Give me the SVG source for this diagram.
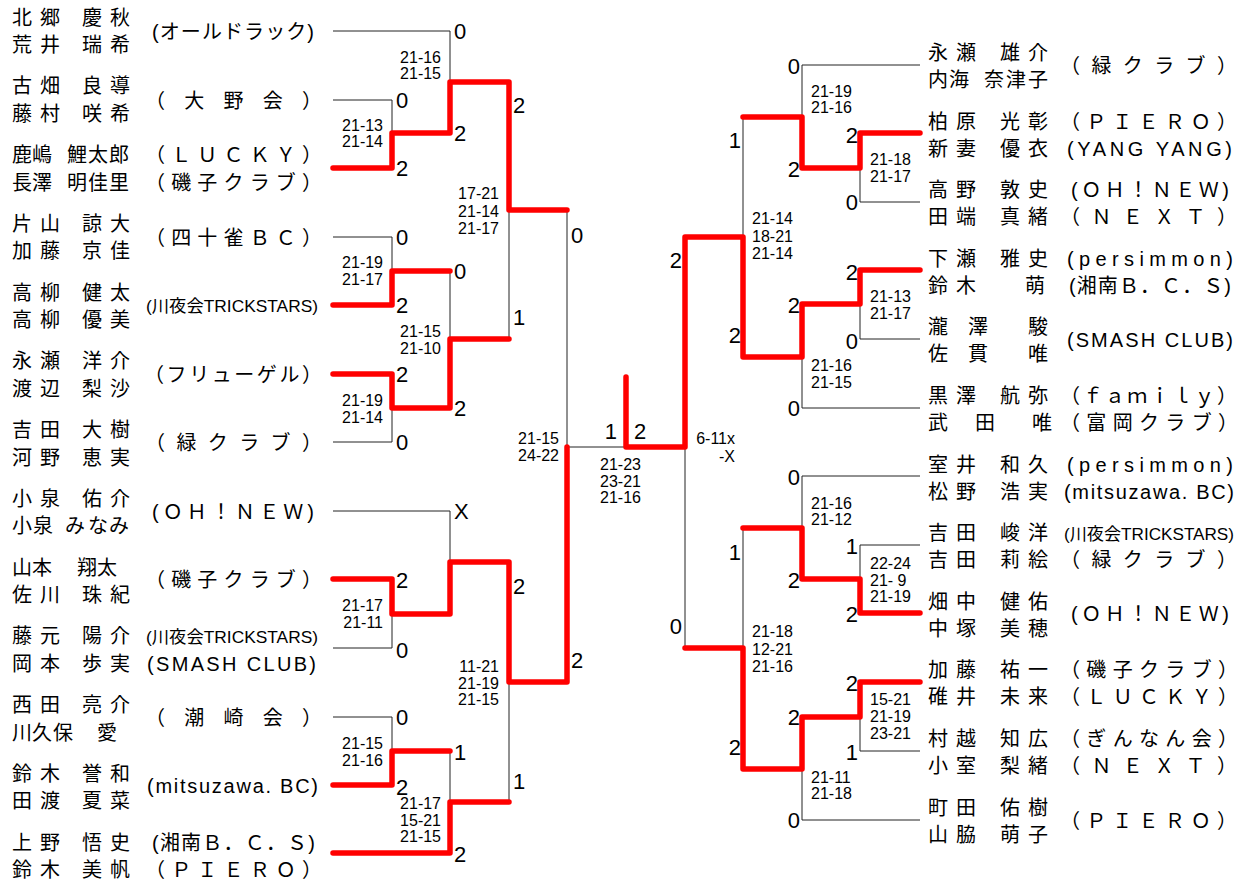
<svg xmlns="http://www.w3.org/2000/svg" width="1244" height="881" viewBox="0 0 1244 881">
<style>
.nm{font-family:"Noto Sans CJK JP",sans-serif;font-size:20px;fill:#000}
.tm{font-family:"Liberation Sans","Noto Sans CJK JP",sans-serif;font-size:20px;fill:#000}
.tk{font-family:"Liberation Sans","Noto Sans CJK JP",sans-serif;font-size:17px;fill:#000}
.sc{font-family:"Liberation Sans",sans-serif;font-size:22px;fill:#000}
.gs{font-family:"Liberation Sans",sans-serif;font-size:16px;fill:#000}
.e{text-anchor:end}
.th{fill:none;stroke:#222;stroke-width:1}
.rd{fill:none;stroke:#f00;stroke-width:5.5;stroke-linecap:round;stroke-linejoin:round}
</style>
<rect width="1244" height="881" fill="#fff"/>
<g id="connectors">
<path class="th" d="M333 31H450V82M333 100H392V133M333 237H392V271M450 271V339M333 442H392V408M509 210V339M567 210V447H626M333 511H450V562M333 648H392V614M333 717H392V751M450 751V802M509 682V802"/>
<path class="th" d="M920 65H802V117M743 117V237M920 202H860V168M920 339H860V304M920 408H802V357M920 476H802V528M920 545H860V579M743 528V648M685 447V648M920 751H860V717M920 820H802V769"/>
<path class="rd" d="M333 168H392V133H450V82H509V210H567"/>
<path class="rd" d="M333 305H392V271H450"/>
<path class="rd" d="M333 374H392V408H450V339H509"/>
<path class="rd" d="M333 579H392V614H450V562H509V682H567V447"/>
<path class="rd" d="M333 785H392V751H450"/>
<path class="rd" d="M333 853H450V802H509"/>
<path class="rd" d="M626 377V447H685V237H743V357H802V304H860V270H920"/>
<path class="rd" d="M920 133H860V168H802V117H743"/>
<path class="rd" d="M920 613H860V579H802V528H743"/>
<path class="rd" d="M920 682H860V717H802V769H743V648H685"/>
</g>
<g id="scores">
<text class="sc" x="454" y="39">0</text>
<text class="sc" x="396" y="108">0</text>
<text class="sc" x="396" y="176">2</text>
<text class="sc" x="454" y="141">2</text>
<text class="sc" x="513" y="113">2</text>
<text class="sc" x="396" y="245">0</text>
<text class="sc" x="454" y="279">0</text>
<text class="sc" x="396" y="313">2</text>
<text class="sc" x="513" y="325">1</text>
<text class="sc" x="571" y="243">0</text>
<text class="sc" x="396" y="382">2</text>
<text class="sc" x="454" y="416">2</text>
<text class="sc" x="396" y="450">0</text>
<text class="sc" x="454" y="519">X</text>
<text class="sc" x="396" y="588">2</text>
<text class="sc" x="396" y="658">0</text>
<text class="sc" x="513" y="594">2</text>
<text class="sc" x="571" y="668">2</text>
<text class="sc" x="396" y="725">0</text>
<text class="sc" x="454" y="760">1</text>
<text class="sc" x="396" y="795">2</text>
<text class="sc" x="513" y="789">1</text>
<text class="sc" x="454" y="862">2</text>
<text class="sc e" x="617" y="439">1</text>
<text class="sc" x="634" y="439">2</text>
<text class="sc e" x="682" y="268">2</text>
<text class="sc e" x="682" y="634">0</text>
<text class="sc e" x="741" y="148">1</text>
<text class="sc e" x="741" y="343">2</text>
<text class="sc e" x="800" y="74">0</text>
<text class="sc e" x="800" y="177">2</text>
<text class="sc e" x="858" y="143">2</text>
<text class="sc e" x="858" y="210">0</text>
<text class="sc e" x="800" y="313">2</text>
<text class="sc e" x="858" y="280">2</text>
<text class="sc e" x="858" y="349">0</text>
<text class="sc e" x="800" y="416">0</text>
<text class="sc e" x="800" y="485">0</text>
<text class="sc e" x="741" y="560">1</text>
<text class="sc e" x="800" y="588">2</text>
<text class="sc e" x="858" y="554">1</text>
<text class="sc e" x="858" y="622">2</text>
<text class="sc e" x="741" y="755">2</text>
<text class="sc e" x="800" y="725">2</text>
<text class="sc e" x="858" y="691">2</text>
<text class="sc e" x="858" y="760">1</text>
<text class="sc e" x="800" y="828">0</text>
</g>
<g id="games">
<text class="gs e" x="441" y="63">21-16<tspan x="441" dy="16">21-15</tspan></text>
<text class="gs e" x="383" y="131">21-13<tspan x="383" dy="16">21-14</tspan></text>
<text class="gs e" x="499" y="199">17-21<tspan x="499" dy="17.5">21-14</tspan><tspan x="499" dy="17.5">21-17</tspan></text>
<text class="gs e" x="383" y="268">21-19<tspan x="383" dy="17">21-17</tspan></text>
<text class="gs e" x="441" y="337">21-15<tspan x="441" dy="17">21-10</tspan></text>
<text class="gs e" x="383" y="406">21-19<tspan x="383" dy="17">21-14</tspan></text>
<text class="gs e" x="559" y="444">21-15<tspan x="559" dy="17">24-22</tspan></text>
<text class="gs e" x="383" y="611">21-17<tspan x="383" dy="17">21-11</tspan></text>
<text class="gs e" x="499" y="672">11-21<tspan x="499" dy="16.5">21-19</tspan><tspan x="499" dy="16.5">21-15</tspan></text>
<text class="gs e" x="383" y="749">21-15<tspan x="383" dy="17">21-16</tspan></text>
<text class="gs e" x="441" y="809">21-17<tspan x="441" dy="16.5">15-21</tspan><tspan x="441" dy="16.5">21-15</tspan></text>
<text class="gs" x="600" y="470">21-23<tspan x="600" dy="16.5">23-21</tspan><tspan x="600" dy="16.5">21-16</tspan></text>
<text class="gs e" x="735" y="444">6-11x<tspan x="735" dy="18">-X</tspan></text>
<text class="gs" x="811" y="97">21-19<tspan x="811" dy="16">21-16</tspan></text>
<text class="gs" x="870" y="165">21-18<tspan x="870" dy="17">21-17</tspan></text>
<text class="gs" x="752" y="224">21-14<tspan x="752" dy="18">18-21</tspan><tspan x="752" dy="17">21-14</tspan></text>
<text class="gs" x="870" y="302">21-13<tspan x="870" dy="17">21-17</tspan></text>
<text class="gs" x="811" y="371">21-16<tspan x="811" dy="17">21-15</tspan></text>
<text class="gs" x="811" y="509">21-16<tspan x="811" dy="16">21-12</tspan></text>
<text class="gs" x="870" y="569">22-24<tspan x="870" dy="16.5">21- 9</tspan><tspan x="870" dy="16.5">21-19</tspan></text>
<text class="gs" x="752" y="637">21-18<tspan x="752" dy="17.5">12-21</tspan><tspan x="752" dy="17">21-16</tspan></text>
<text class="gs" x="870" y="705">15-21<tspan x="870" dy="17">21-19</tspan><tspan x="870" dy="17">23-21</tspan></text>
<text class="gs" x="811" y="783">21-11<tspan x="811" dy="16">21-18</tspan></text>
</g>
<g id="L1"><text class="nm" x="12 40 82 110" y="24.5">北郷慶秋</text><text class="nm" x="12 40 82 110" y="52">荒井瑞希</text><text class="tm" x="152" y="38.5" textLength="162" lengthAdjust="spacing">(オールドラック)</text></g>
<g id="L2"><text class="nm" x="12 40 82 110" y="93.3">古畑良導</text><text class="nm" x="12 40 82 110" y="120.8">藤村咲希</text><text class="tm" x="145" y="107.5" textLength="177" lengthAdjust="spacing">（大野会）</text></g>
<g id="L3"><text class="nm" x="12 32 67 88 109" y="162">鹿嶋鯉太郎</text><text class="nm" x="12 32 67 88 109" y="189.5">長澤明佳里</text><text class="tm" x="145" y="162" textLength="177" lengthAdjust="spacing">（ＬＵＣＫＹ）</text><text class="tm" x="145" y="189.5" textLength="177" lengthAdjust="spacing">（磯子クラブ）</text></g>
<g id="L4"><text class="nm" x="12 40 82 110" y="230.8">片山諒大</text><text class="nm" x="12 40 82 110" y="258.3">加藤京佳</text><text class="tm" x="145" y="244.5" textLength="177" lengthAdjust="spacing">（四十雀ＢＣ）</text></g>
<g id="L5"><text class="nm" x="12 40 82 110" y="299.5">高柳健太</text><text class="nm" x="12 40 82 110" y="327">高柳優美</text><text class="tk" x="146" y="311.5" textLength="172" lengthAdjust="spacingAndGlyphs">(川夜会TRICKSTARS)</text></g>
<g id="L6"><text class="nm" x="12 40 82 110" y="368.3">永瀬洋介</text><text class="nm" x="12 40 82 110" y="395.8">渡辺梨沙</text><text class="tm" x="144" y="381.5" textLength="178" lengthAdjust="spacing">（フリューゲル）</text></g>
<g id="L7"><text class="nm" x="12 40 82 110" y="437">吉田大樹</text><text class="nm" x="12 40 82 110" y="464.5">河野恵実</text><text class="tm" x="145" y="449.5" textLength="177" lengthAdjust="spacing">（緑クラブ）</text></g>
<g id="L8"><text class="nm" x="12 40 82 110" y="505.8">小泉佑介</text><text class="nm" x="12 33 65 88 109" y="533.3">小泉みなみ</text><text class="tm" x="152" y="518.5" textLength="162" lengthAdjust="spacing">(ＯＨ！ＮＥＷ)</text></g>
<g id="L9"><text class="nm" x="12 32 77 97" y="574.5">山本翔太</text><text class="nm" x="12 40 82 110" y="602">佐川珠紀</text><text class="tm" x="145" y="586.5" textLength="177" lengthAdjust="spacing">（磯子クラブ）</text></g>
<g id="L10"><text class="nm" x="12 40 82 110" y="643.3">藤元陽介</text><text class="nm" x="12 40 82 110" y="670.8">岡本歩実</text><text class="tk" x="146" y="642.5" textLength="172" lengthAdjust="spacingAndGlyphs">(川夜会TRICKSTARS)</text><text class="tm" x="147" y="670.5" textLength="169" lengthAdjust="spacing">(SMASH CLUB)</text></g>
<g id="L11"><text class="nm" x="12 40 82 110" y="712">西田亮介</text><text class="nm" x="12 32 53 97" y="739.5">川久保愛</text><text class="tm" x="145" y="724.5" textLength="177" lengthAdjust="spacing">（潮崎会）</text></g>
<g id="L12"><text class="nm" x="12 40 82 110" y="780.8">鈴木誉和</text><text class="nm" x="12 40 82 110" y="808.3">田渡夏菜</text><text class="tm" x="147" y="792.5" textLength="171" lengthAdjust="spacing">(mitsuzawa. BC)</text></g>
<g id="L13"><text class="nm" x="12 40 82 110" y="849.5">上野悟史</text><text class="nm" x="12 40 82 110" y="877">鈴木美帆</text><text class="tm" x="152" y="849.5" textLength="163" lengthAdjust="spacing">(湘南Ｂ．Ｃ．Ｓ)</text><text class="tm" x="145" y="877" textLength="177" lengthAdjust="spacing">（ＰＩＥＲＯ）</text></g>
<g id="R1"><text class="nm" x="928 956 1000 1028" y="60">永瀬雄介</text><text class="nm" x="928 949 984 1006 1028" y="87">内海奈津子</text><text class="tm" x="1060" y="72.5" textLength="177" lengthAdjust="spacing">（緑クラブ）</text></g>
<g id="R2"><text class="nm" x="928 956 1000 1028" y="128.6">柏原光彰</text><text class="nm" x="928 956 1000 1028" y="155.6">新妻優衣</text><text class="tm" x="1060" y="128.6" textLength="177" lengthAdjust="spacing">（ＰＩＥＲＯ）</text><text class="tm" x="1067" y="155.6" textLength="165" lengthAdjust="spacing">(YANG YANG)</text></g>
<g id="R3"><text class="nm" x="928 956 1000 1028" y="197.2">高野敦史</text><text class="nm" x="928 956 1000 1028" y="224.2">田端真緒</text><text class="tm" x="1071" y="197.2" textLength="158" lengthAdjust="spacing">(ＯＨ！ＮＥＷ)</text><text class="tm" x="1060" y="224.2" textLength="177" lengthAdjust="spacing">（ＮＥＸＴ）</text></g>
<g id="R4"><text class="nm" x="928 956 1000 1028" y="265.8">下瀬雅史</text><text class="nm" x="928 956 1025" y="292.8">鈴木萌</text><text class="tm" x="1067" y="265.8" textLength="166" lengthAdjust="spacing">(persimmon)</text><text class="tm" x="1069" y="292.8" textLength="162" lengthAdjust="spacing">(湘南Ｂ．Ｃ．Ｓ)</text></g>
<g id="R5"><text class="nm" x="928 968 1028" y="334.4">瀧澤駿</text><text class="nm" x="928 968 1028" y="361.4">佐貫唯</text><text class="tm" x="1067" y="346.5" textLength="166" lengthAdjust="spacing">(SMASH CLUB)</text></g>
<g id="R6"><text class="nm" x="928 956 1000 1028" y="403">黒澤航弥</text><text class="nm" x="928 975 1032" y="430">武田唯</text><text class="tm" x="1060" y="403" textLength="177" lengthAdjust="spacing">（ｆａｍｉｌｙ）</text><text class="tm" x="1060" y="430" textLength="178" lengthAdjust="spacing">（富岡クラブ）</text></g>
<g id="R7"><text class="nm" x="928 956 1000 1028" y="471.6">室井和久</text><text class="nm" x="928 956 1000 1028" y="498.6">松野浩実</text><text class="tm" x="1067" y="471.6" textLength="166" lengthAdjust="spacing">(persimmon)</text><text class="tm" x="1064" y="498.6" textLength="170" lengthAdjust="spacing">(mitsuzawa. BC)</text></g>
<g id="R8"><text class="nm" x="928 956 1000 1028" y="540.2">吉田峻洋</text><text class="nm" x="928 956 1000 1028" y="567.2">吉田莉絵</text><text class="tk" x="1064" y="539.5" textLength="170" lengthAdjust="spacingAndGlyphs">(川夜会TRICKSTARS)</text><text class="tm" x="1060" y="567.2" textLength="177" lengthAdjust="spacing">（緑クラブ）</text></g>
<g id="R9"><text class="nm" x="928 956 1000 1028" y="608.8">畑中健佑</text><text class="nm" x="928 956 1000 1028" y="635.8">中塚美穂</text><text class="tm" x="1071" y="620.5" textLength="158" lengthAdjust="spacing">(ＯＨ！ＮＥＷ)</text></g>
<g id="R10"><text class="nm" x="928 956 1000 1028" y="677.4">加藤祐一</text><text class="nm" x="928 956 1000 1028" y="704.4">碓井未来</text><text class="tm" x="1060" y="677.4" textLength="178" lengthAdjust="spacing">（磯子クラブ）</text><text class="tm" x="1060" y="704.4" textLength="178" lengthAdjust="spacing">（ＬＵＣＫＹ）</text></g>
<g id="R11"><text class="nm" x="928 956 1000 1028" y="746">村越知広</text><text class="nm" x="928 956 1000 1028" y="773">小室梨緒</text><text class="tm" x="1060" y="746" textLength="178" lengthAdjust="spacing">（ぎんなん会）</text><text class="tm" x="1060" y="773" textLength="177" lengthAdjust="spacing">（ＮＥＸＴ）</text></g>
<g id="R12"><text class="nm" x="928 956 1000 1028" y="814.6">町田佑樹</text><text class="nm" x="928 956 1000 1028" y="841.6">山脇萌子</text><text class="tm" x="1060" y="827.5" textLength="177" lengthAdjust="spacing">（ＰＩＥＲＯ）</text></g>
</svg>
